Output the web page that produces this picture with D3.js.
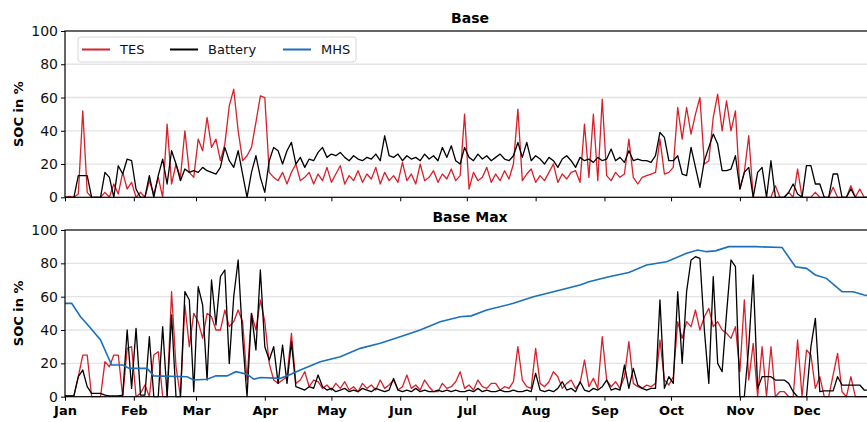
<!DOCTYPE html>
<html>
<head>
<meta charset="utf-8">
<script src="https://cdn.jsdelivr.net/npm/d3@7"></script>
<style>
body{margin:0;background:#fff;}
text{font-family:"DejaVu Sans",sans-serif;}
</style>
</head>
<body>
<script>
// one value every 2 days, Jan 1 .. Dec 31
var step = 2;
var months = ["Jan","Feb","Mar","Apr","May","Jun","Jul","Aug","Sep","Oct","Nov","Dec"];
var yTicks = [0,20,40,60,80,100];
var seriesNames = ["TES","Battery","MHS"];

var tesBase = [0,0.5,0,2,52,3,0,0,0,3,0,8,2,15,5,9,0,3,0,10,2,12,0,44,8,20,12,40,15,12,
  35,28,48,30,35,22,32,55,65,40,22,25,30,45,61,60,15,12,10,15,8,15,20,10,12,15,8,14,10,18,
  9,14,19,8,13,10,16,9,14,11,18,8,15,10,13,9,21,10,14,8,20,10,12,16,9,14,11,17,10,13,
  50,5,15,10,12,18,9,14,10,16,11,20,53,10,14,17,9,13,10,15,20,9,14,11,15,16,9,44,12,50,
  10,59,13,10,15,12,14,35,12,8,12,13,14,15,35,14,15,18,54,35,54,38,50,60,20,22,48,62,40,58,
  40,52,5,15,37,0,0,0,0,0,7,0,0,3,0,17,0,0,0,3,0,0,0,6,0,0,0,7,0,5,0,0,0];

var batBase = [0,0,0,13,13,13,0,0,0,15,12,0,19,14,23,22,5,0,0,13,0,13,23,8,28,20,10,17,15,16,
  15,18,16,15,14,18,30,22,18,28,14,0,15,25,12,3,22,30,28,20,28,33,20,24,18,23,22,27,30,24,
  26,25,27,24,22,25,23,22,24,23,26,22,37,25,24,26,22,25,23,24,22,26,23,25,22,30,24,31,22,20,
  30,24,22,26,23,25,22,24,26,23,22,25,33,24,33,22,25,23,20,24,22,18,23,25,22,18,24,22,23,21,
  24,22,23,29,22,24,21,28,22,23,22,22,21,25,39,36,22,22,25,14,13,30,18,6,22,30,38,32,16,16,
  17,25,5,15,18,0,15,18,0,22,0,0,0,3,8,2,0,19,19,8,8,0,0,14,14,0,0,5,0,0,0,0,0];

var tesMax = [0.5,0.5,0.5,12,25,25,0,0,0,21,18,25,25,0,29,30,0,2,7,0,25,27,0,0,63,18,0,55,30,50,
  45,35,50,48,40,40,52,42,45,52,45,10,50,40,58,45,20,10,8,10,12,38,8,10,15,6,10,9,5,7,
  4,8,5,9,4,6,3,8,5,7,4,10,5,7,10,4,6,13,5,7,4,10,6,3,3,8,5,6,9,15,
  5,7,4,10,6,5,8,8,4,6,5,9,30,10,6,5,29,8,6,9,15,12,5,8,10,5,8,22,6,11,
  5,36,10,6,9,5,12,33,8,6,5,7,6,8,34,10,7,12,45,35,45,42,52,40,48,53,42,45,40,38,
  35,42,15,58,10,32,0,30,0,30,0,3,3,0,0,34,0,28,25,5,12,0,0,13,26,3,0,12,0,0,0,0,0];

var batMax = [0.5,0.5,0.5,12,16,6,2,2,2,1,0.5,0.5,0.5,1,40,5,41,1,1,36,0,0,42,0,49,0,0,63,58,3,
  66,55,10,70,43,72,76,20,60,82,35,0,50,28,76,30,22,30,8,31,8,33,6,5,4,6,5,13,6,4,
  5,3,4,5,3,4,3,5,4,3,5,4,3,4,11,4,3,4,3,5,3,4,3,3,4,3,4,3,4,3,
  3,4,3,5,3,4,3,3,4,3,3,4,3,3,4,3,14,4,3,4,3,5,9,4,5,3,9,4,3,5,
  4,6,10,4,5,4,19,5,17,7,5,4,5,5,58,5,12,8,63,20,63,82,84,83,40,8,72,20,15,50,
  82,78,0,0,30,73,5,12,12,12,10,10,10,8,3,0,0,0,30,47,3,3.5,3.5,3.5,12,7,7,7,7,7,4,4,4];

// MHS is smooth, read at irregular days
var mhsDays = [0,3,7,11,16,21,26,29,37,40,55,58,64,68,73,77,82,85,88,97,101,106,115,124,133,142,151,160,169,178,
  183,190,202,211,220,232,236,245,254,262,271,280,285,289,293,299,311,323,329,334,338,343,350,355,360,364];
var mhsVals = [56,56,48,42,34,19,19,17,17,12.5,12,10,10.5,12.5,12.5,15,13.5,10.5,11.5,11,13,16,21,24,29,32,36,40,45,48,
  48.5,52,56,60,63,67,69,72,74.5,79,81,86,88,87,87.5,90,90,89.5,78,77,73,71,63,63,61,60];

var colors = {TES:"#d7202a", Battery:"#000000", MHS:"#1a6fbe"};

var W = 867, H = 422;
var left = 65;
var svg = d3.select("body").append("svg").attr("width",W).attr("height",H);
svg.append("rect").attr("width",W).attr("height",H).attr("fill","#fff");

var t0 = new Date(2019,0,1);
function dayDate(d){ return d3.timeDay.offset(t0,d); }

var x = d3.scaleTime()
          .domain([t0, new Date(2019,11,31)])
          .range([left, left+364*2.22]);

var panels = [
  {title:"Base", top:31, bottom:197.3, tes:tesBase, bat:batBase, mhs:false, labels:false, legend:true},
  {title:"Base Max", top:230, bottom:396.7, tes:tesMax, bat:batMax, mhs:true, labels:true, legend:false}
];

panels.forEach(function(p){
  var y = d3.scaleLinear().domain([0,100]).range([p.bottom,p.top]);
  var g = svg.append("g");

  // grid
  g.selectAll("line.grid").data(yTicks.slice(1,5)).enter().append("line")
    .attr("x1",left).attr("x2",W)
    .attr("y1",function(d){return y(d);}).attr("y2",function(d){return y(d);})
    .attr("stroke","#e3e3e3").attr("stroke-width",1.3);

  var line = d3.line()
      .x(function(d){return x(dayDate(d.day));})
      .y(function(d){return y(d.v);});

  var tesPts = p.tes.map(function(v,i){return {day:i*step, v:v};});
  var batPts = p.bat.map(function(v,i){return {day:i*step, v:v};});

  g.append("path").attr("d",line(tesPts)).attr("fill","none")
    .attr("stroke",colors.TES).attr("stroke-width",1.3).attr("stroke-linejoin","round");
  g.append("path").attr("d",line(batPts)).attr("fill","none")
    .attr("stroke",colors.Battery).attr("stroke-width",1.3).attr("stroke-linejoin","round");
  if(p.mhs){
    var mhsPts = mhsDays.map(function(d,i){return {day:d, v:mhsVals[i]};});
    g.append("path").attr("d",line(mhsPts)).attr("fill","none")
      .attr("stroke",colors.MHS).attr("stroke-width",1.6);
  }

  // y axis
  var yAxis = d3.axisLeft(y).tickValues(yTicks).tickSize(4).tickPadding(3);
  var ya = g.append("g").attr("transform","translate("+left+",0)").call(yAxis);
  ya.select(".domain").remove();
  ya.selectAll("text").attr("font-size",14).attr("fill","#111").attr("font-family","DejaVu Sans");
  ya.selectAll("line").attr("stroke","#000");

  // x axis
  var monthStarts = months.map(function(m,i){return new Date(2019,i,1);});
  var xAxis = d3.axisBottom(x).tickValues(monthStarts).tickSize(4).tickPadding(5)
      .tickFormat(function(d,i){return p.labels ? months[i] : "";});
  var xa = g.append("g").attr("transform","translate(0,"+p.bottom+")").call(xAxis);
  xa.select(".domain").remove();
  xa.selectAll("text").attr("font-size",13).attr("font-weight","bold").attr("fill","#000")
    .attr("font-family","DejaVu Sans");
  xa.selectAll("line").attr("stroke","#000");

  // frame
  g.append("rect").attr("x",left).attr("y",p.top)
    .attr("width",364*2.22+2).attr("height",p.bottom-p.top)
    .attr("fill","none").attr("stroke","#000").attr("stroke-width",1.2);

  g.append("text").attr("x",470).attr("y",p.top-8).attr("text-anchor","middle")
    .attr("font-size",14).attr("font-weight","bold").text(p.title);

  g.append("text").attr("transform","translate(23,"+((p.top+p.bottom)/2)+") rotate(-90)")
    .attr("text-anchor","middle").attr("font-size",13).attr("font-weight","bold")
    .text("SOC in %");

  if(p.legend){
    var lg = g.append("g");
    lg.append("rect").attr("x",78).attr("y",37).attr("width",278).attr("height",25)
      .attr("rx",3).attr("fill","#fff").attr("fill-opacity",0.85)
      .attr("stroke","#d8d8d8").attr("stroke-width",1);
    var lx = [82,170,283];
    seriesNames.forEach(function(n,i){
      lg.append("line").attr("x1",lx[i]).attr("x2",lx[i]+28).attr("y1",49.5).attr("y2",49.5)
        .attr("stroke",colors[n]).attr("stroke-width",2);
      lg.append("text").attr("x",lx[i]+38).attr("y",54).attr("font-size",13).attr("fill","#111").text(n);
    });
  }
});
</script>
</body>
</html>
